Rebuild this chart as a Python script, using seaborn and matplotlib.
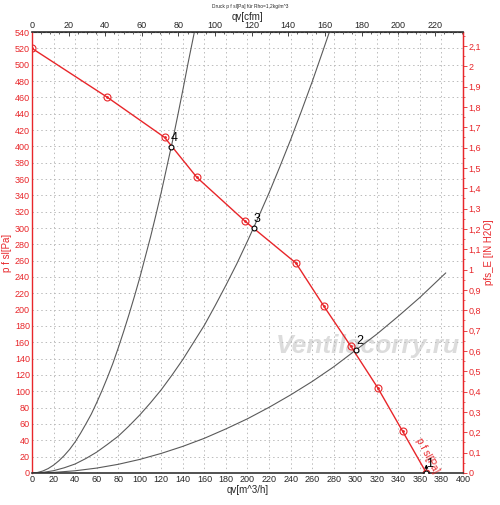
import matplotlib
matplotlib.use("Agg")
import matplotlib.pyplot as plt
import seaborn as sns
from matplotlib.ticker import MultipleLocator, FuncFormatter

# fan curve p f sl [Pa] over qv [m^3/h]
fan_q = [0, 70, 123, 153, 198, 245, 271, 296, 321, 344, 366]
fan_p = [520, 460, 411, 362, 308, 257, 204, 155, 104, 51, 0]

# system curves
sysA_q = [0, 5, 10, 15, 20, 25, 30, 35, 40, 45, 50, 55, 60, 65, 70, 75, 80, 85, 90,
          95, 100, 105, 110, 115, 120, 125, 130, 135, 140, 145, 150.7]
sysA_p = [0, 0.6, 2.4, 5.4, 9.6, 15, 21.5, 29, 38, 48.5, 60, 72, 86, 101, 117, 134,
          153, 173, 194, 216, 239, 264, 289, 316, 344, 374, 404, 436, 469, 503, 540]
sysB_q = [0, 10, 20, 30, 40, 50, 60, 70, 80, 90, 100, 110, 120, 130, 140, 150, 160,
          170, 180, 190, 200, 210, 220, 230, 240, 250, 260, 270, 276]
sysB_p = [0, 0.7, 2.8, 6.4, 11, 17.7, 25.5, 35, 45, 57.5, 71, 86, 102, 120, 139, 160,
          181, 205, 230, 256, 284, 313, 343, 375, 408, 443, 479, 517, 540]
sysC_q = [0, 20, 40, 60, 80, 100, 120, 140, 160, 180, 200, 220, 240, 260, 280, 300,
          320, 340, 360, 384]
sysC_p = [0, 0.7, 2.7, 6, 10.6, 16.6, 24, 32.6, 42.5, 54, 66.4, 80.4, 95.6, 112, 130,
          150, 170, 192, 215, 245]

# operating points
op_labels = ["1", "2", "3", "4"]
op_q = [366, 300.7, 205.7, 129]
op_p = [0, 150.6, 300, 399]

RED = "#e8262a"


def fmt_comma(v, pos):
    s = f"{v:.1f}".rstrip("0").rstrip(".")
    return s.replace(".", ",")


def main():
    sns.set_style("white")
    plt.rcParams["font.family"] = ["Liberation Sans", "DejaVu Sans"]
    plt.rcParams["font.size"] = 7

    fig = plt.figure(figsize=(5.0, 5.05), dpi=100)
    ax = fig.add_axes([0.064, 0.0634, 0.862, 0.8732])

    ax.text(312, 155, "Ventilacorry.ru", color="#dcdcdc", fontsize=19,
            style="italic", weight="bold", ha="center", va="center", zorder=0.5)

    for q, p in [(sysA_q, sysA_p), (sysB_q, sysB_p), (sysC_q, sysC_p)]:
        sns.lineplot(x=q, y=p, ax=ax, color="#5a5a5a", lw=0.8, sort=False)

    sns.lineplot(x=fan_q, y=fan_p, ax=ax, color=RED, lw=1.0, sort=False)
    ax.plot(fan_q, fan_p, ls="none", marker="o", ms=5, mfc="none", mec=RED, mew=0.8)
    ax.plot(fan_q, fan_p, ls="none", marker=".", ms=2, color=RED)

    ax.plot(op_q, op_p, ls="none", marker="o", ms=3.5, mfc="white", mec="black",
            mew=0.8, zorder=5)
    for lab, q, p in zip(op_labels, op_q, op_p):
        ax.text(q, p + 4, lab, fontsize=9, ha="left", va="bottom", color="black", zorder=6)
    ax.annotate("", xy=(366, 14), xytext=(366, 1),
                arrowprops=dict(arrowstyle="-|>", color="black", lw=0.7,
                                mutation_scale=5))

    ax.text(367, 22, "p f sl[Pa]", color=RED, fontsize=7, rotation=-62,
            ha="center", va="center")

    ax.set_xlim(0, 400)
    ax.set_ylim(0, 540)
    ax.xaxis.set_major_locator(MultipleLocator(20))
    ax.xaxis.set_minor_locator(MultipleLocator(10))
    ax.yaxis.set_major_locator(MultipleLocator(20))
    ax.yaxis.set_minor_locator(MultipleLocator(10))
    ax.grid(True, which="major", color="#bbbbbb", ls=(0, (1.5, 3)), lw=0.7)
    ax.tick_params(axis="both", which="major", direction="in", length=3, width=0.6,
                   labelsize=6.5, pad=1.5)
    ax.tick_params(axis="both", which="minor", direction="in", length=1.5, width=0.5)
    ax.tick_params(axis="y", colors=RED)
    ax.set_xlabel("qv[m^3/h]", fontsize=7, labelpad=1)
    ax.set_ylabel("p f sl[Pa]", fontsize=7, color=RED, labelpad=2)

    for side in ["left", "right"]:
        ax.spines[side].set_color(RED)
        ax.spines[side].set_linewidth(1.0)
    ax.spines["bottom"].set_color("#333333")
    ax.spines["top"].set_color("#333333")
    ax.spines["bottom"].set_linewidth(1.2)
    ax.spines["top"].set_linewidth(1.2)

    top = ax.secondary_xaxis("top", functions=(lambda x: x / 1.699, lambda x: x * 1.699))
    top.xaxis.set_major_locator(MultipleLocator(20))
    top.xaxis.set_minor_locator(MultipleLocator(5))
    top.tick_params(which="major", direction="in", length=3, width=0.6, labelsize=6.5, pad=1.5)
    top.tick_params(which="minor", direction="in", length=1.5, width=0.5)
    top.set_xlabel("qv[cfm]", fontsize=7, labelpad=1)

    right = ax.secondary_yaxis("right", functions=(lambda p: p / 249.09, lambda w: w * 249.09))
    right.yaxis.set_major_locator(MultipleLocator(0.1))
    right.yaxis.set_minor_locator(MultipleLocator(0.05))
    right.yaxis.set_major_formatter(FuncFormatter(fmt_comma))
    right.tick_params(which="major", length=3, width=0.6, labelsize=6.5, pad=1, colors=RED)
    right.tick_params(which="minor", length=1.5, width=0.5, colors=RED)
    right.spines["right"].set_color(RED)
    right.set_ylabel("pfs_E [IN H2O]", fontsize=7, color=RED, labelpad=2)

    fig.text(0.5, 0.988, "Druck p f sl[Pa] für Rho=1,2kg/m^3", fontsize=3.5,
             ha="center", va="center")

    fig.savefig("out.png", dpi=100, facecolor="white")


if __name__ == "__main__":
    main()
